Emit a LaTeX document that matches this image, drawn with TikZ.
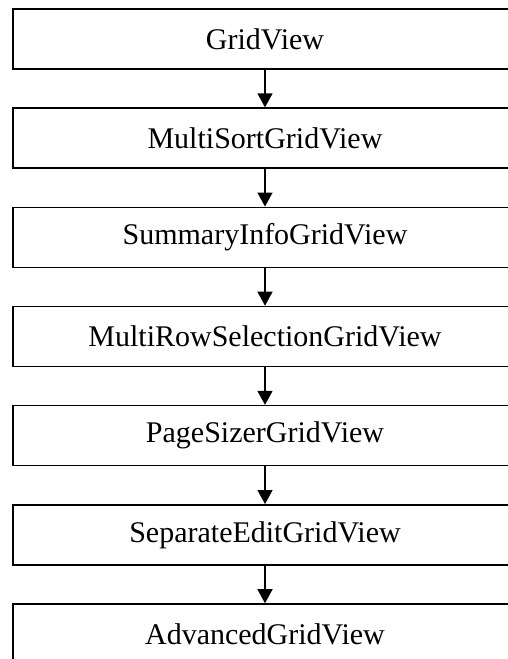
\documentclass[tikz,border=0pt]{standalone}
\usepackage{fontspec}
\setmainfont{Liberation Serif}
\usetikzlibrary{arrows.meta}
\begin{document}
\begin{tikzpicture}[x=1pt,y=1pt,
  cls/.style={draw=black, line width=1.6pt, rectangle, minimum width=504pt, minimum height=60pt, inner sep=0pt, font=\fontsize{30}{34}\selectfont, fill=white},
  inh/.style={line width=1.3pt, -{Triangle[width=15pt,length=14pt]}}]
\useasboundingbox (0,0) rectangle (508,-659);
\clip (0,0) rectangle (508,-659);
\foreach \name/\txt [count=\i from 0] in {a/GridView,b/MultiSortGridView,c/SummaryInfoGridView,d/MultiRowSelectionGridView,e/PageSizerGridView,f/SeparateEditGridView,g/AdvancedGridView}{
  \node[cls] (\name) at (265,{-(39+99.17*\i)}) {\txt};
}
\foreach \p/\q in {a/b,b/c,c/d,d/e,e/f,f/g}{
  \draw[inh] (\p.south) -- (\q.north);
}
\end{tikzpicture}
\end{document}
